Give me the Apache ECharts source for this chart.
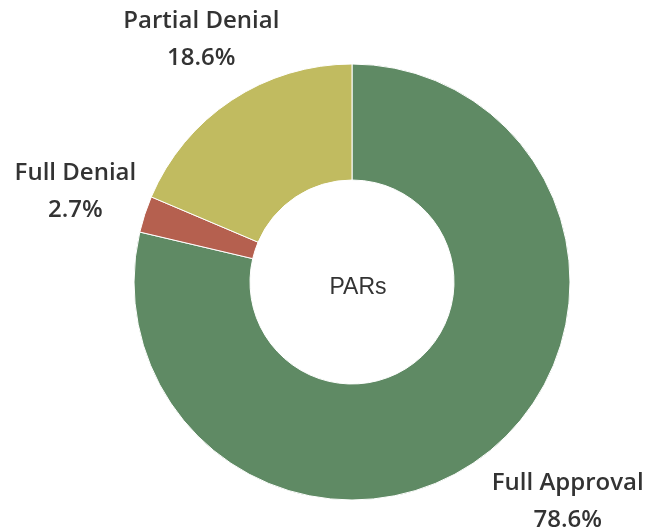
<!DOCTYPE html>
<html>
<head>
<meta charset="utf-8">
<script src="https://cdn.jsdelivr.net/npm/echarts@6/dist/echarts.min.js"></script>
<style>
  html, body { margin: 0; padding: 0; background: #fff; }
  #chart { width: 645px; height: 531px; }
</style>
</head>
<body>
<div id="chart"></div>
<script>
// PARs outcome shares (%)
var categories = ["Full Approval", "Full Denial", "Partial Denial"];
var values = [78.6, 2.7, 18.6];
var colors = ["#5f8a64", "#b5604f", "#c1bb60"];
var centerLabel = "PARs";

var chart = echarts.init(document.getElementById("chart"));

// small nudges so the labels sit where the original tool put them
var labelNudge = {
  "Full Approval": [35, -8],
  "Partial Denial": [10, 0]
};

var option = {
  animation: false,
  title: {
    text: centerLabel,
    left: 353,
    top: 283,
    textAlign: "center",
    textVerticalAlign: "middle",
    textStyle: {
      fontFamily: "Liberation Sans",
      fontSize: 23,
      fontWeight: "normal",
      color: "#333"
    }
  },
  series: [
    {
      // donut
      type: "pie",
      center: [352, 282],
      radius: [102, 218],
      startAngle: 90,
      clockwise: true,
      silent: true,
      label: { show: false },
      labelLine: { show: false },
      itemStyle: { borderColor: "#fff", borderWidth: 1 },
      data: categories.map(function (name, i) {
        return { name: name, value: values[i], itemStyle: { color: colors[i] } };
      })
    },
    {
      // invisible ring that only carries the labels
      type: "pie",
      center: [352, 282],
      radius: [276, 300],
      startAngle: 90,
      clockwise: true,
      silent: true,
      itemStyle: { color: "transparent" },
      labelLine: { show: false },
      label: {
        show: true,
        position: "inside",
        fontFamily: "Open Sans",
        fontSize: 24,
        fontWeight: 600,
        color: "#333",
        lineHeight: 37,
        align: "center",
        formatter: function (p) {
          return p.name + "\n" + p.value.toFixed(1) + "%";
        }
      },
      data: categories.map(function (name, i) {
        var item = { name: name, value: values[i] };
        if (labelNudge[name]) item.label = { offset: labelNudge[name] };
        return item;
      })
    }
  ]
};

chart.setOption(option);
window.addEventListener("resize", function () {
  chart.resize();
});
</script>
</body>
</html>
